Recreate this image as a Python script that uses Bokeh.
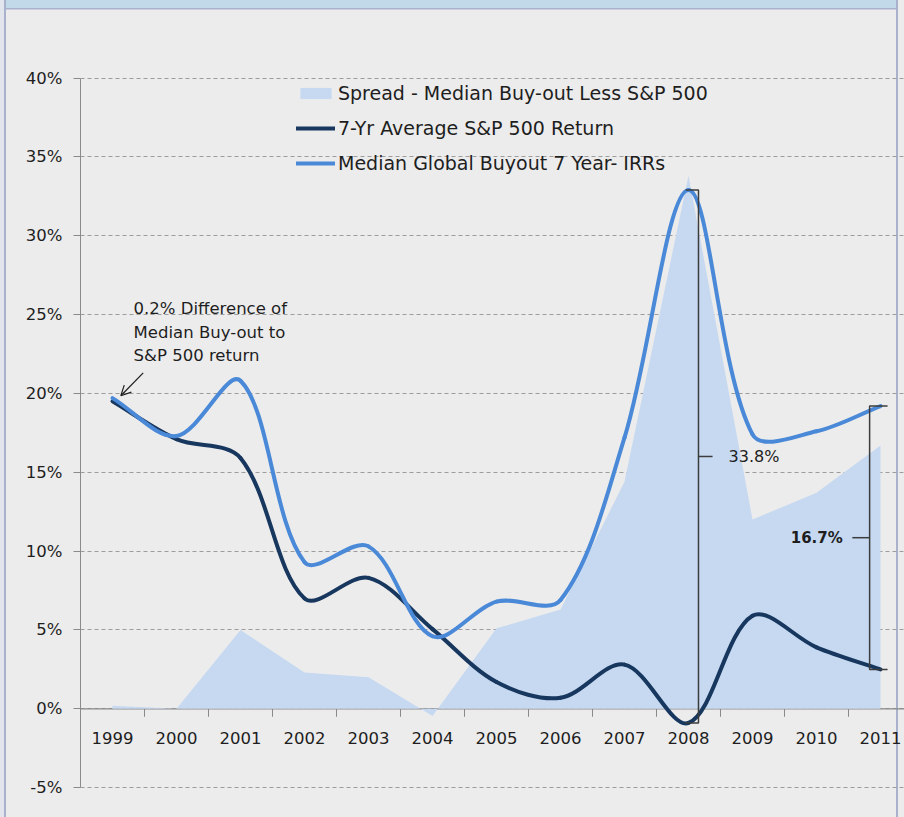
import numpy as np
from bokeh.plotting import figure
from bokeh.models import Range1d, FixedTicker, Legend, LegendItem, Arrow, OpenHead
from bokeh.core.properties import value
from bokeh.embed import file_html
from bokeh.resources import INLINE

# ---------------- data ----------------
years = ["1999", "2000", "2001", "2002", "2003", "2004", "2005",
         "2006", "2007", "2008", "2009", "2010", "2011"]
spread = [0.2, 0.0, 5.0, 2.3, 2.0, -0.45, 5.1, 6.3, 14.4, 33.8, 12.0, 13.7, 16.7]
sp500 = [19.5, 17.1, 15.9, 7.0, 8.3, 5.05, 1.7, 0.7, 2.8, -0.9, 5.9, 3.9, 2.5]
buyout = [19.7, 17.3, 20.8, 9.3, 10.3, 4.6, 6.8, 6.9, 17.2, 32.9, 17.4, 17.6, 19.2]
y_ticks = [-5, 0, 5, 10, 15, 20, 25, 30, 35, 40]
y_tick_labels = ["-5%", "0%", "5%", "10%", "15%", "20%", "25%", "30%", "35%", "40%"]
series_names = ["Spread - Median Buy-out Less S&P 500",
                "7-Yr Average S&P 500 Return",
                "Median Global Buyout 7 Year- IRRs"]
note_text = "0.2% Difference of\nMedian Buy-out to\nS&P 500 return"

# ---------------- style ----------------
FONT = "DejaVu Sans"
BG = "#ececec"
TXT = "#1e1e1e"
AXIS = "#8a8a8a"
C_AREA = "#c6d9f1"
C_SP = "#17375e"
C_BUY = "#4a89d8"
C_BAND = "#c2d9ea"
C_EDGE = "#aab1cd"
C_STRIP = "#e3e5ec"

W, H = 904, 817
LEFT = 80
Y1 = 708.3 / 15.77
Y0 = (708.3 - H) / 15.77
X0 = -0.5
X1 = X0 + (W - LEFT) / 64.0
sx = (W - LEFT) / (X1 - X0)
sy = H / (Y1 - Y0)

x = np.arange(len(years), dtype=float)

p = figure(width=W, height=H, output_backend="svg", toolbar_location=None,
           x_range=Range1d(X0, X1), y_range=Range1d(Y0, Y1),
           min_border_left=LEFT, min_border_right=0, min_border_top=0, min_border_bottom=0,
           x_axis_location=None,
           background_fill_color=None, border_fill_color=None, outline_line_color=None)

# panel chrome behind the chart (title band, left strip and borders)
p.styles = {
    "background": (
        f"linear-gradient({C_STRIP},{C_STRIP}) 0px 0px / 4px 100% no-repeat, "
        f"linear-gradient({C_EDGE},{C_EDGE}) 4px 0px / 2px 100% no-repeat, "
        f"linear-gradient({C_EDGE},{C_EDGE}) 896px 0px / 2px 100% no-repeat, "
        f"linear-gradient({C_EDGE},{C_EDGE}) 0px 8px / 898px 1.5px no-repeat, "
        f"linear-gradient({C_BAND},{C_BAND}) 0px 0px / 896px 8px no-repeat, "
        f"{BG}"
    )
}

# y axis
yax = p.yaxis[0]
yax.ticker = FixedTicker(ticks=y_ticks)
yax.major_label_overrides = dict(zip(y_ticks, y_tick_labels))
yax.bounds = (min(y_ticks), max(y_ticks))
yax.axis_line_color = AXIS
yax.major_tick_line_color = AXIS
yax.major_tick_out = 7
yax.major_tick_in = 0
yax.minor_tick_out = 0
yax.minor_tick_in = 0
yax.major_label_standoff = 11
yax.major_label_text_font = FONT
yax.major_label_text_font_size = "16.5px"
yax.major_label_text_color = TXT

p.ygrid.ticker = FixedTicker(ticks=y_ticks)
p.ygrid.grid_line_color = "#9c9c9c"
p.ygrid.grid_line_dash = "4 3"
p.ygrid.grid_line_width = 1
p.xgrid.visible = False

# x axis (at 0%)
p.segment(x0=[X0], y0=[0], x1=[X1], y1=[0], line_color=AXIS, line_width=1.2)
bounds = x[:-1] + 0.5
p.segment(x0=bounds, y0=np.zeros_like(bounds), x1=bounds,
          y1=np.full_like(bounds, -8 / sy), line_color=AXIS, line_width=1)
p.text(x=x, y=np.full_like(x, -29 / sy), text=years,
       text_align="center", text_baseline="middle",
       text_font=value(FONT), text_font_size="16.5px", text_color=TXT)

# spread area
r_area = p.varea(x=x, y1=np.zeros_like(x), y2=spread, fill_color=C_AREA, fill_alpha=1.0)


def smooth(xs, ys):
    """Excel-like smoothed line as cubic Bezier segments (chord-weighted Catmull-Rom)."""
    xs = np.asarray(xs, float)
    ys = np.asarray(ys, float)
    xa = np.concatenate([[xs[0]], xs, [xs[-1]]])
    ya = np.concatenate([[ys[0]], ys, [ys[-1]]])
    A = slice(0, -3); B = slice(1, -2); C = slice(2, -1); D = slice(3, None)
    dist = lambda i, j: np.hypot((xa[j] - xa[i]) * sx, (ya[j] - ya[i]) * sy)
    dab, dbc, dcd = dist(A, B), dist(B, C), dist(C, D)
    f1 = dbc / (dab + dbc) / 3
    f2 = dbc / (dbc + dcd) / 3
    return dict(x0=xa[B], y0=ya[B], x1=xa[C], y1=ya[C],
                cx0=xa[B] + (xa[C] - xa[A]) * f1, cy0=ya[B] + (ya[C] - ya[A]) * f1,
                cx1=xa[C] - (xa[D] - xa[B]) * f2, cy1=ya[C] - (ya[D] - ya[B]) * f2)


r_sp = p.bezier(line_color=C_SP, line_width=4, line_cap="round", **smooth(x, sp500))
r_buy = p.bezier(line_color=C_BUY, line_width=4, line_cap="round", **smooth(x, buyout))

# legend
legend = Legend(items=[LegendItem(label=series_names[0], renderers=[r_area]),
                       LegendItem(label=series_names[1], renderers=[r_sp]),
                       LegendItem(label=series_names[2], renderers=[r_buy])],
                location=(216, 643), padding=0, margin=0, spacing=13,
                glyph_width=39, glyph_height=14, label_height=14, label_standoff=3,
                border_line_color=None, background_fill_alpha=0,
                label_text_font=FONT, label_text_font_size="19px", label_text_color=TXT)
p.add_layout(legend)

# note + arrow at 1999
p.text(x=[x[0] + 0.33], y=[buyout[0] + 6.3], text=[note_text],
       text_align="left", text_baseline="top", text_line_height=1.25,
       text_font=value(FONT), text_font_size="16.5px", text_color=TXT)
p.add_layout(Arrow(end=OpenHead(size=10, line_width=1.2, line_color=TXT),
                   x_start=x[0] + 0.48, y_start=buyout[0] + 1.6,
                   x_end=x[0] + 0.13, y_end=buyout[0] + 0.15,
                   line_color=TXT, line_width=1.2))

# braces
BR = "#3c3c3c"
i8 = years.index("2008")
xa8 = x[i8] + 0.156
ta, ba = buyout[i8], sp500[i8]
ma = (ta + ba) / 2
i11 = years.index("2011")
xb = x[i11] - 0.17
tb, bb = buyout[i11], sp500[i11]
mb = (tb + bb) / 2
p.multi_line(xs=[[xa8 - 0.2, xa8, xa8, xa8 - 0.2], [xa8, xa8 + 0.22],
                 [xb + 0.28, xb, xb, xb + 0.28], [xb, xb - 0.27]],
             ys=[[ta, ta, ba, ba], [ma, ma], [tb, tb, bb, bb], [mb, mb]],
             line_color=BR, line_width=1.5)
p.text(x=[xa8 + 0.47], y=[ma], text=[f"{ta - ba:.1f}%"], text_align="left",
       text_baseline="middle", text_font=value(FONT), text_font_size="16px", text_color=TXT)
p.text(x=[xb - 0.42], y=[mb], text=[f"{tb - bb:.1f}%"], text_align="right",
       text_baseline="middle", text_font=value(FONT), text_font_size="15px",
       text_font_style="bold", text_color=TXT)

open("out.html", "w").write(file_html(p, INLINE))
